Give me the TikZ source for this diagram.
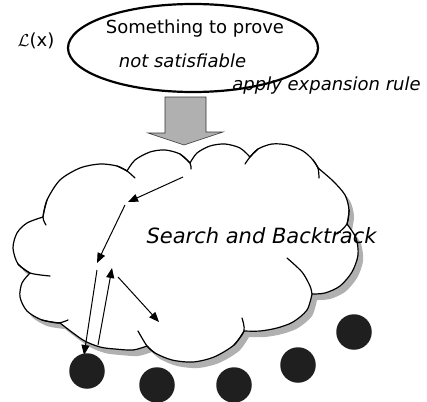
\documentclass[tikz,border=0pt]{standalone}
\usepackage{fontspec}
\setmainfont{DejaVu Sans}
\usetikzlibrary{shapes.geometric,arrows.meta}

\tikzset{
  cloudline/.style={line width=1.2pt, line join=round},
  tailline/.style={line width=1.2pt, line cap=round},
  hop/.style={-{Triangle[length=10pt,width=8pt]}, line width=1pt},
  pebble/.style={circle, fill=black!88, minimum size=35.5pt, inner sep=0pt},
  lbl/.style={anchor=base, inner sep=0pt},
  txt/.style={font=\fontsize{18}{20}\selectfont},
  slanttxt/.style={font=\fontsize{18}{20}\selectfont\itshape},
  bigtxt/.style={font=\fontsize{21}{24}\selectfont\itshape},
  goalshape/.style={ellipse, draw, line width=2.2pt, minimum width=250pt, minimum height=88pt, inner sep=0pt},
  bluntarrow/.style={fill=gray!62, draw=gray!40!black, line width=0.6pt},
  shade/.style={fill=gray!62},
}

% outline of the cloud, bump by bump
\def\cloudpath{%
  plot[smooth] coordinates {(43,217) (47,200) (60,180) (80,168) (100,164) (117,166) (127,171)}
  -- plot[smooth] coordinates {(127,171) (135,160) (150,152) (165,150) (180,154) (190,163)}
  -- plot[smooth] coordinates {(190,163) (197,153) (210,146) (225,144) (240,148) (250,157)}
  -- plot[smooth] coordinates {(250,157) (258,149) (272,144) (288,145) (303,151) (313,160) (318,168)}
  -- plot[smooth] coordinates {(318,168) (333,181) (345,195) (349,210) (347,224)}
  -- plot[smooth] coordinates {(347,224) (356,238) (358,255) (352,272) (340,286) (325,293) (312,294)}
  -- plot[smooth] coordinates {(312,294) (307,310) (293,322) (277,328) (260,331) (244,331)}
  -- plot[smooth] coordinates {(244,331) (234,345) (214,357) (193,362) (172,360) (155,353) (147,346)}
  -- plot[smooth] coordinates {(147,346) (133,350) (115,349) (100,347) (83,340) (60,323)}
  -- plot[smooth] coordinates {(60,323) (42,320) (27,311) (20,297) (22,283) (30,273)}
  -- plot[smooth] coordinates {(30,273) (18,264) (13,248) (17,233) (27,223) (43,217)}
  -- cycle}

\begin{document}
\begin{tikzpicture}[x=1pt,y=-1pt]
\useasboundingbox (0,0) rectangle (427,401);

% goal to be proved
\node[goalshape] (goal) at (193,48) {};
\node[lbl, txt] (goaltop) at (195,34) {Something to prove};
\node[lbl, slanttxt] (goalbot) at (182.5,67) {not satisfiable};
\node[lbl, txt] (lx) at (36,47) {$\mathcal{L}$(x)};

% broad downward arrow
\path[bluntarrow] (165,97) -- (206,97) -- (206,132) -- (223,132) -- (184,145) -- (148,133) -- (165,133) -- cycle;
\node[lbl, slanttxt] (rule) at (326.5,91) {apply expansion rule};

% cloud with its shadow
\path[shade, shift={(5,6)}] \cloudpath;
\path[fill=white, draw=black, cloudline] \cloudpath;

% inner ends of the bumps
\draw[tailline] plot[smooth] coordinates {(46,225) (43,217) (47,200)};
\draw[tailline] plot[smooth] coordinates {(117,166) (127,171) (135,178)};
\draw[tailline] plot[smooth] coordinates {(180,154) (190,163) (191,169)};
\draw[tailline] plot[smooth] coordinates {(258,149) (250,157) (245,164)};
\draw[tailline] plot[smooth] coordinates {(313,160) (318,168) (319,178)};
\draw[tailline] plot[smooth] coordinates {(349,210) (347,224) (337,234)};
\draw[tailline] plot[smooth] coordinates {(287,258) (302,272) (310,286) (312,294)};
\draw[tailline] plot[smooth] coordinates {(242,318) (244,331) (234,345)};
\draw[tailline] plot[smooth] coordinates {(155,353) (147,346) (138,331)};
\draw[tailline] plot[smooth] coordinates {(42,320) (58,323) (68,320)};
\draw[tailline] plot[smooth] coordinates {(18,264) (30,273) (50,276)};

\node[lbl, bigtxt] (search) at (261.5,243) {Search and Backtrack};

% search steps
\coordinate (s0) at (183,177);
\coordinate (s1) at (128,202);
\coordinate (s2) at (125,205);
\coordinate (s3) at (97,263);
\coordinate (s4) at (97,270);
\coordinate (s5) at (84,355);
\coordinate (s6) at (98,345);
\coordinate (s7) at (112,268);
\coordinate (s8) at (118,277);
\coordinate (s9) at (159,322);
\draw[hop] (s0) -- (s1);
\draw[hop] (s2) -- (s3);
\draw[hop] (s4) -- (s5);
\draw[hop] (s6) -- (s7);
\draw[hop] (s8) -- (s9);

% leaves of the search
\node[pebble] (d1) at (87,371) {};
\node[pebble] (d2) at (157,385) {};
\node[pebble] (d3) at (234,385) {};
\node[pebble] (d4) at (298,365) {};
\node[pebble] (d5) at (354,332) {};
\end{tikzpicture}
\end{document}
